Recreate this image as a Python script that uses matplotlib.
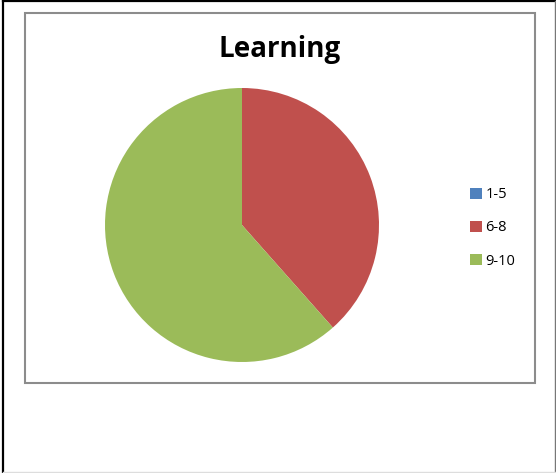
import matplotlib.pyplot as plt
from matplotlib.patches import Rectangle
from matplotlib.lines import Line2D

labels = ["1-5", "6-8", "9-10"]
counts = [0, 5, 8]
colors = ["#4F81BD", "#C0504D", "#9BBB59"]

W, H = 556, 473
fig = plt.figure(figsize=(W / 100, H / 100), dpi=100)


def fx(px):
    return px / W


def fy(py):
    return 1 - py / H


# outer cell lines
fig.add_artist(Line2D([fx(3), fx(3)], [fy(1), fy(472)], color="black", lw=1.6))
fig.add_artist(Line2D([fx(3), fx(555)], [fy(1.5), fy(1.5)], color="black", lw=1.6))
fig.add_artist(Line2D([fx(555), fx(555)], [fy(1), fy(472)], color="#777777", lw=1.0))
fig.add_artist(Line2D([fx(3), fx(555)], [fy(472), fy(472)], color="#dddddd", lw=1.0))

# chart area frame
fig.add_artist(Rectangle((fx(25), fy(383)), fx(535) - fx(25), fy(13) - fy(383),
                         fill=False, edgecolor="#8c8c8c", lw=1.5))

# pie
cx, cy, r = 242, 225, 137
ax = fig.add_axes([fx(cx - r), fy(cy + r), fx(2 * r), (2 * r) / H])
wedges, _ = ax.pie(counts, colors=colors, startangle=90, counterclock=False,
                   wedgeprops=dict(linewidth=0))
ax.set_xlim(-1, 1)
ax.set_ylim(-1, 1)
ax.set_aspect("auto")

fig.text(fx(280), fy(49), "Learning", ha="center", va="center",
         fontsize=20, fontweight="bold", family="Open Sans")

fig.legend(wedges, labels, loc="center left", bbox_to_anchor=(fx(463), fy(228)),
           frameon=False, handlelength=0.8, handleheight=0.8,
           handletextpad=0.25, labelspacing=1.25, borderpad=0,
           prop={"family": "Open Sans", "size": 10.5})

fig.savefig("out.png", dpi=100)
